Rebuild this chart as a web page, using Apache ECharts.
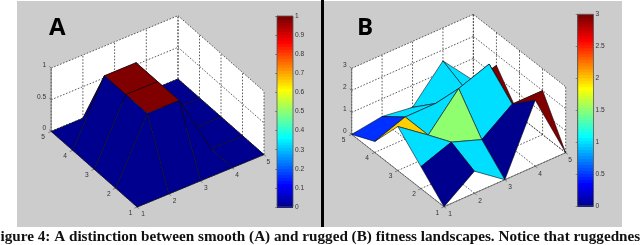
<!DOCTYPE html>
<html><head><meta charset="utf-8">
<style>html,body{margin:0;padding:0;background:#fff}#c{width:640px;height:245px;filter:blur(0.35px)}</style>
<script src="https://cdn.jsdelivr.net/npm/echarts@6/dist/echarts.min.js"></script>
</head><body><div id="c"></div>
<script>
// ---- data ----
const xTicks=[1,2,3,4,5];
const yTicks=[1,2,3,4,5];
const zTicksA=[0,0.5,1];
const zTicksB=[0,1,2,3];
// heights: one row per x = 1..5, one column per y = 1..5
const surfaceA=[
 [0,0,0,0,0],
 [0,0.97,0.97,0.97,0],
 [0,0.97,0.97,0.97,0],
 [0,0,0,0,0],
 [0,0,0,0,0]];
const surfaceB=[
 [0,1,2,0.5,0],
 [1,1.5,1,1,0.2],
 [0,1,2.5,1,0],
 [3,2,3,1,1.5],
 [0,2,0,1.5,0]];
// colour value of each cell, one row per x = 1..4, one column per y = 1..4
const cellsA=[
 [0,0,0,0],
 [0,1,1,1],
 [0,1,1,1],
 [0,0,0,0]];
const cellsB=[
 [0,1,2,0.5],
 [1,1.5,1,1],
 [0,1,2.5,1],
 [3,2,3,1]];
const caption='Figure 4: A distinction between smooth (A) and rugged (B) fitness landscapes. Notice that ruggedness';

// ---- view set-up ----
const viewA={o:[137.2,207],ex:[31.7,-13.1],ey:[-21.5,-18.9],ez:63.3,zMax:1};
const viewB={o:[444,206.7],ex:[30.42,-13.5],ey:[-23.08,-18.08],ez:22,zMax:3};
function project(v,x,y,z){
  return [v.o[0]+(x-1)*v.ex[0]+(y-1)*v.ey[0], v.o[1]+(x-1)*v.ex[1]+(y-1)*v.ey[1]-z*v.ez];
}
function jet(i){ // MATLAB jet(64)
  const t=(i+1)/64, c=a=>Math.round(255*Math.max(0,Math.min(1,1.5-Math.abs(4*t-a))));
  return 'rgb('+c(3)+','+c(2)+','+c(1)+')';
}
function jetOf(v){return jet(Math.min(63,Math.floor(v*64)));}

function panelSeries(v,surface,cells,zTicks){
  const base={type:'custom',coordinateSystem:'cartesian2d',xAxisIndex:0,yAxisIndex:0,silent:true,animation:false,clip:false};
  const P=(api,x,y,z)=>api.coord(project(v,x,y,z));
  const zTop=v.zMax;
  // white box faces
  const faces=[[1,1,0,5,1,0,5,5,0,1,5,0],[1,5,0,5,5,0,5,5,zTop,1,5,zTop],[5,1,0,5,5,0,5,5,zTop,5,1,zTop]];
  const out=[Object.assign({},base,{z:2,data:faces,renderItem:(p,api)=>{
    const pts=[0,3,6,9].map(k=>P(api,api.value(k),api.value(k+1),api.value(k+2)));
    return {type:'polygon',shape:{points:pts},style:{fill:'#fff'}};
  }})];
  // grid lines
  const lines=[];
  xTicks.forEach(x=>{lines.push([x,1,0,x,5,0]);lines.push([x,5,0,x,5,zTop]);});
  yTicks.forEach(y=>{lines.push([1,y,0,5,y,0]);lines.push([5,y,0,5,y,zTop]);});
  zTicks.forEach(z=>{lines.push([1,5,z,5,5,z]);lines.push([5,5,z,5,1,z]);});
  out.push(Object.assign({},base,{z:3,data:lines,renderItem:(p,api)=>{
    const a=P(api,api.value(0),api.value(1),api.value(2)),b=P(api,api.value(3),api.value(4),api.value(5));
    return {type:'line',shape:{x1:a[0],y1:a[1],x2:b[0],y2:b[1]},style:{stroke:'#333',lineWidth:0.8,lineDash:[1.6,1.6]}};
  }}));
  // solid axes and tick marks
  const axes=[[1,1,0,5,1,0],[1,1,0,1,5,0],[1,5,0,1,5,zTop]];
  const tickLen=0.09;
  xTicks.forEach(x=>axes.push([x,1,0,x,1-tickLen,0]));
  yTicks.forEach(y=>axes.push([1,y,0,1-tickLen,y,0]));
  zTicks.forEach(z=>axes.push([1,5,z,1,5+tickLen,z]));
  out.push(Object.assign({},base,{z:4,data:axes,renderItem:(p,api)=>{
    const a=P(api,api.value(0),api.value(1),api.value(2)),b=P(api,api.value(3),api.value(4),api.value(5));
    return {type:'line',shape:{x1:a[0],y1:a[1],x2:b[0],y2:b[1]},style:{stroke:'#666',lineWidth:0.8}};
  }}));
  // surface cells, far to near
  const order=[];
  for(let i=0;i<4;i++)for(let j=0;j<4;j++)order.push([i,j,cells[i][j]]);
  order.sort((a,b)=>(b[0]+b[1])-(a[0]+a[1]));
  out.push(Object.assign({},base,{z:5,data:order,renderItem:(p,api)=>{
    const i=api.value(0),j=api.value(1);
    const pts=[[i,j],[i+1,j],[i+1,j+1],[i,j+1]].map(q=>P(api,q[0]+1,q[1]+1,surface[q[0]][q[1]]));
    return {type:'polygon',shape:{points:pts},style:{fill:jetOf(api.value(2)/v.zMax),stroke:'#0a0a14',lineWidth:0.6}};
  }}));
  // tick labels
  const labels=[];
  xTicks.forEach(x=>labels.push([0,x]));
  yTicks.forEach(y=>labels.push([1,y]));
  zTicks.forEach(z=>labels.push([2,z]));
  out.push(Object.assign({},base,{z:6,data:labels,renderItem:(p,api)=>{
    const kind=api.value(0),t=api.value(1);
    let c,dx,dy,align='center';
    if(kind===0){c=P(api,t,1,0);dx=6-(t-1)*0.4;dy=7.6;}
    else if(kind===1){c=P(api,1,t,0);dx=-6.6-(t-1)*0.35;dy=6;}
    else{c=P(api,1,5,t);dx=-5;dy=-3;align='right';}
    return {type:'text',x:c[0]+dx,y:c[1]+dy,style:{text:String(t),font:'6.6px "Liberation Sans"',fill:'#333',align:align,verticalAlign:'middle'}};
  }}));
  return out;
}

const barMax={1:1,2:3};
function colorbarSeries(idx){
  const levels=[];for(let i=0;i<64;i++)levels.push(i);
  return {type:'custom',coordinateSystem:'cartesian2d',xAxisIndex:idx,yAxisIndex:idx,silent:true,animation:false,z:3,data:levels,
    renderItem:(p,api)=>{
      const i=api.value(0);
      const l=p.coordSys.x, w=p.coordSys.width;
      const a=api.coord([0,(i+1)/64*barMax[idx]]), b=api.coord([0,i/64*barMax[idx]]);
      return {type:'rect',shape:{x:l,y:a[1],width:w,height:b[1]-a[1]+1},style:{fill:jet(i)}};
    }};
}

const hiddenAxis=(i,max,inv)=>({type:'value',gridIndex:i,min:0,max:max,inverse:!!inv,show:false});
const barY=(i,max,step)=>({type:'value',gridIndex:i,min:0,max:max,interval:step,position:'right',
  axisLine:{show:true,lineStyle:{color:'#555',width:0.8}},
  axisTick:{show:true,inside:true,length:2,lineStyle:{color:'#555',width:0.6}},
  axisLabel:{show:true,margin:2,fontSize:6.6,color:'#333',fontFamily:'Liberation Sans',showMinLabel:true,showMaxLabel:true},
  splitLine:{show:false}});

const chart=echarts.init(document.getElementById('c'),null,{renderer:'canvas',width:640,height:245});
chart.setOption({
  animation:false,
  backgroundColor:'#fff',
  grid:[
    {left:0,top:0,width:640,height:245},
    {left:277,top:16,width:16,height:191,show:true,borderColor:'#555',borderWidth:0.8,backgroundColor:'transparent',z:4},
    {left:577.7,top:14.3,width:15.8,height:191.7,show:true,borderColor:'#555',borderWidth:0.8,backgroundColor:'transparent',z:4}],
  xAxis:[hiddenAxis(0,640),hiddenAxis(1,1),hiddenAxis(2,1)],
  yAxis:[hiddenAxis(0,245,true),barY(1,1,0.1),barY(2,3,0.5)],
  graphic:{elements:[
    {type:'rect',z:-10,shape:{x:17,y:1,width:304,height:226},style:{fill:'#cccccc'}},
    {type:'rect',z:-10,shape:{x:324,y:1,width:298,height:226},style:{fill:'#cccccc'}},
    {type:'rect',z:-9,shape:{x:321,y:0,width:3,height:227},style:{fill:'#000'}},
    {type:'text',z:100,x:49,y:16,style:{text:'A',font:'bold 24px "Open Sans"',fill:'#000'}},
    {type:'text',z:100,x:357,y:16,style:{text:'B',font:'bold 24px "Open Sans"',fill:'#000'}},
    {type:'text',z:100,x:-8.8,y:230,style:{text:caption,font:'bold 15.2px "Liberation Serif"',fill:'#111'}}
  ]},
  series:[].concat(
    panelSeries(viewA,surfaceA,cellsA,zTicksA),
    panelSeries(viewB,surfaceB,cellsB,zTicksB),
    [colorbarSeries(1),colorbarSeries(2)])
});
</script></body></html>
